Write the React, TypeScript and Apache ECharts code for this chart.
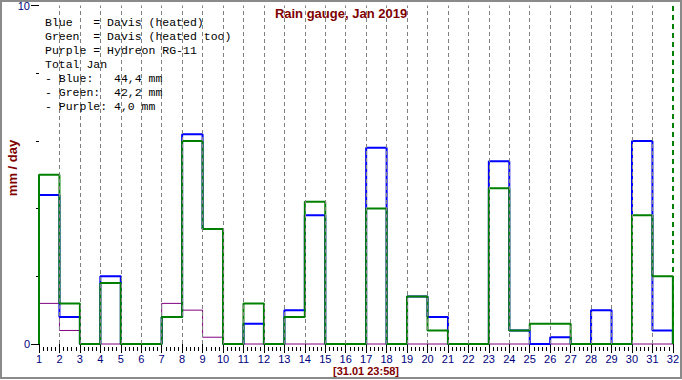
import React, { useEffect, useRef } from "react";
import * as echarts from "echarts";

const days = [1,2,3,4,5,6,7,8,9,10,11,12,13,14,15,16,17,18,19,20,21,22,23,24,25,26,27,28,29,30,31];
const blueValues = [4.4,0.8,0,2.0,0,0,0.8,6.2,3.4,0,0.6,0,1.0,3.8,0,0,5.8,0,1.4,0.8,0,0,5.4,0.4,0,0.2,0,1.0,0,6.0,0.4];
const greenValues = [5.0,1.2,0,1.8,0,0,0.8,6.0,3.4,0,1.2,0,0.8,4.2,0,0,4.0,0,1.4,0.4,0,0,4.6,0.4,0.6,0.6,0,0,0,3.8,2.0];
const purpleValues = [1.2,0.4,0,0,0,0,1.2,1.0,0.2,0,0,0,0,0,0,0,0,0,0,0,0,0,0,0,0,0,0,0,0,0,0];
const endDay = 32;
const legendLines = [
  "Blue   = Davis (heated)",
  "Green  = Davis (heated too)",
  "Purple = Hydreon RG-11",
  "Total Jan",
  "- Blue:   44,4 mm",
  "- Green:  42,2 mm",
  "- Purple: 4,0 mm",
];
const titleText = "Rain gauge, Jan 2019";
const yName = "mm / day";
const stampText = "[31.01 23:58]";

function stepData(vals: number[]) {
  const pts: number[][] = [[days[0], 0]];
  days.forEach((d, i) => pts.push([d, vals[i]]));
  pts.push([endDay, vals[vals.length - 1]]);
  pts.push([endDay, 0]);
  return pts;
}

export default function App() {
  const ref = useRef<HTMLDivElement>(null);
  useEffect(() => {
    document.body.style.margin = "0";
    if (!ref.current) return;
    const chart = echarts.init(ref.current, null, { renderer: "svg" });
    const navy = "#000080";
    const darkRed = "#800000";
    const mkSeries = (name: string, vals: number[], color: string, width: number, z: number) => ({
      name,
      type: "line",
      step: "end",
      data: stepData(vals),
      showSymbol: false,
      clip: false,
      z,
      lineStyle: { color, width },
      itemStyle: { color },
    });
    chart.setOption({
      animation: false,
      backgroundColor: "#ffffff",
      grid: { left: 39, right: 4, top: 4, bottom: 36, containLabel: false },
      xAxis: [
        {
          type: "value",
          min: 1,
          max: endDay,
          interval: 1,
          axisLine: { show: false },
          axisTick: { show: true, length: 9, lineStyle: { color: "#000", width: 1 } },
          axisLabel: { color: navy, fontSize: 11, fontFamily: "Liberation Sans", margin: 9 },
          splitLine: { show: false },
        },
        {
          type: "value",
          min: 1,
          max: endDay,
          interval: 1,
          position: "bottom",
          offset: 3,
          axisLine: { show: false },
          axisTick: { show: false },
          axisLabel: { show: false },
          splitLine: { show: false },
          minorTick: { show: true, splitNumber: 5, length: 4, lineStyle: { color: "#000", width: 1 } },
        },
      ],
      yAxis: {
        type: "value",
        min: 0,
        max: 10,
        interval: 10,
        axisLine: { show: false },
        axisTick: { show: true, length: 8, lineStyle: { color: "#000", width: 1 } },
        minorTick: { show: true, splitNumber: 5, length: 3, lineStyle: { color: "#000", width: 1 } },
        axisLabel: { color: navy, fontSize: 11, fontFamily: "Liberation Sans", margin: 9 },
        splitLine: { show: false },
      },
      series: [
        {
          type: "line",
          data: [],
          z: 0,
          silent: true,
          markLine: {
            silent: true,
            symbol: "none",
            label: { show: false },
            data: [
              ...days.slice(1).map((d) => ({
                xAxis: d,
                lineStyle: { color: "#808080", type: [4, 3], width: 1 },
              })),
              { xAxis: endDay, lineStyle: { color: "#008000", type: [5, 4], width: 2 } },
            ],
          },
        },
        mkSeries("Purple", purpleValues, "#800080", 1, 2),
        mkSeries("Blue", blueValues, "#0000ff", 2, 3),
        mkSeries("Green", greenValues, "#008000", 2, 4),
      ],
      graphic: [
        {
          type: "rect",
          shape: { x: 1, y: 1, width: 680, height: 377 },
          style: { fill: "none", stroke: "#8a8a8a", lineWidth: 2 },
          silent: true,
          z: 10,
        },
        {
          type: "text",
          x: 341,
          y: 13,
          style: {
            text: titleText,
            fill: darkRed,
            font: "bold 13px 'Liberation Sans'",
            textAlign: "center",
            textVerticalAlign: "middle",
          },
          z: 10,
        },
        {
          type: "text",
          x: 12,
          y: 168,
          rotation: Math.PI / 2,
          style: {
            text: yName,
            fill: darkRed,
            font: "bold 13px 'Liberation Sans'",
            textAlign: "center",
            textVerticalAlign: "middle",
          },
          z: 10,
        },
        {
          type: "text",
          x: 366,
          y: 371,
          style: {
            text: stampText,
            fill: darkRed,
            font: "bold 11px 'Liberation Sans'",
            textAlign: "center",
            textVerticalAlign: "middle",
          },
          z: 10,
        },
        ...legendLines.map((line, i) => ({
          type: "text",
          x: 45,
          y: 22.5 + i * 14,
          style: {
            text: line,
            fill: "#000000",
            font: "11.5px 'Liberation Mono'",
            textAlign: "left",
            textVerticalAlign: "middle",
          },
          z: 10,
        })),
      ],
    });
    return () => chart.dispose();
  }, []);
  return <div ref={ref} style={{ width: 682, height: 380 }} />;
}
